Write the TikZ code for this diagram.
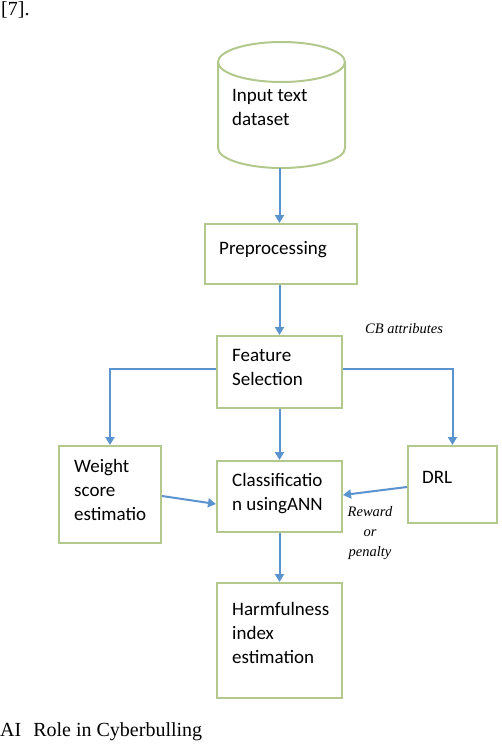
\documentclass[tikz,border=0pt]{standalone}
\usepackage{fontspec}
\setmainfont{Liberation Serif}
\newfontfamily\boxfont{Carlito}
\usetikzlibrary{arrows.meta}
\definecolor{boxgreen}{HTML}{B3C88C}
\definecolor{flowblue}{HTML}{5B93CF}

\begin{document}
\begin{tikzpicture}[x=1pt,y=-1pt,
    box/.style={draw=boxgreen,line width=2pt,inner sep=0pt},
    txt/.style={font=\boxfont\fontsize{19}{24}\selectfont,align=left,inner sep=0pt,anchor=base west},
    flow/.style={draw=flowblue,line width=2pt,-{Triangle[length=8pt,width=9pt]}},
    note/.style={font=\itshape\fontsize{14.5}{20}\selectfont,inner sep=0pt,anchor=base west}]
    \useasboundingbox (0,0) rectangle (502,744);

    % page text around the figure
    \node[font=\fontsize{20}{24}\selectfont,inner sep=0pt,anchor=base west] (ref) at (1,15) {[7].};
    \node[font=\fontsize{20}{24}\selectfont,inner sep=0pt,anchor=base west] (caption) at (0,736) {AI\hspace{7pt} Role in Cyberbulling};

    % dataset cylinder
    \draw[draw=boxgreen,line width=2pt,fill=white]
        (218,62) -- (218,148) arc[start angle=180,end angle=0,x radius=63.5,y radius=20]
        -- (345,62) arc[start angle=0,end angle=-180,x radius=63.5,y radius=20];
    \draw[draw=boxgreen,line width=2pt] (218,62) arc[start angle=180,end angle=0,x radius=63.5,y radius=20];
    \coordinate (data) at (279.5,168);
    \node[txt] (datatext) at (232,125) {Input text\\dataset};

    % boxes
    \node[box,minimum width=152,minimum height=60] (pre) at (281,254) {};
    \foreach \name/\y/\h in {feat/372/72, class/496.5/71, harm/640.5/115} {
        \node[box,minimum width=125,minimum height=\h] (\name) at (279.5,\y) {};
    }
    \node[box,minimum width=102,minimum height=97] (weight) at (110,494.5) {};
    \node[box,minimum width=89,minimum height=77] (drl) at (452.5,484.5) {};

    % box texts (base = last line)
    \node[txt] (pretext) at (219,254) {Preprocessing};
    \node[txt] (feattext) at (232,385) {Feature\\Selection};
    \node[txt] (classtext) at (232,510) {Classificatio\\n usingANN};
    \node[txt] (harmtext) at (232,663) {Harmfulness\\index\\estimation};
    \node[txt] (weighttext) at (74,520) {Weight\\score\\estimatio};
    \node[txt] (drltext) at (422,483) {DRL};

    % notes
    \node[note] (cbnote) at (365,333) {CB attributes};
    \node[note,align=center,anchor=north] (rewnote) at (370,506) {Reward\\or\\penalty};

    % connectors
    \draw[flow] (data) -- (pre.north -| data);
    \draw[flow] (pre.south -| feat) -- (feat.north);
    \draw[flow] (feat.south) -- (class.north);
    \draw[flow] (class.south) -- (harm.north);
    \draw[flow] (feat.west |- 0,369) -| (weight.north);
    \draw[flow] (feat.east |- 0,369) -| (drl.north);
    \draw[flow] (weight.east |- 0,496) -- (class.west |- 0,504);
    \draw[flow] (drl.west |- 0,487) -- (class.east |- 0,495);
\end{tikzpicture}
\end{document}
